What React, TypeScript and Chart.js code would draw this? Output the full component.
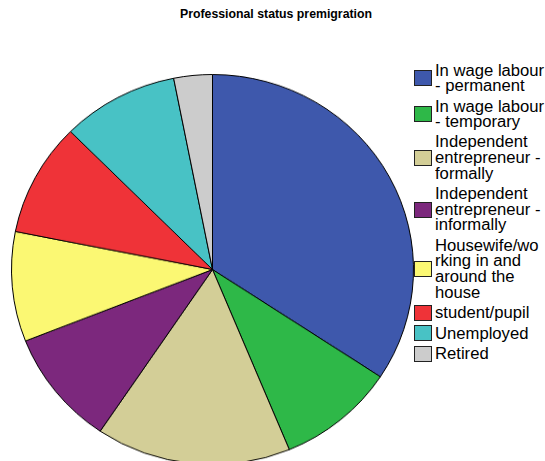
import React, { useEffect, useRef } from "react";
import { Chart, registerables } from "chart.js";

Chart.register(...registerables);

const chartTitle = "Professional status premigration";

const categories: string[][] = [
  ["In wage labour", "- permanent"],
  ["In wage labour", "- temporary"],
  ["Independent", "entrepreneur -", "formally"],
  ["Independent", "entrepreneur -", "informally"],
  ["Housewife/wo", "rking in and", "around the", "house"],
  ["student/pupil"],
  ["Unemployed"],
  ["Retired"],
];

const values = [34.3, 9.5, 15.7, 9.6, 9.1, 9.4, 9.4, 3.1];

const colors = [
  "#3E58AC",
  "#2EB848",
  "#D3CE97",
  "#7C287D",
  "#FBF873",
  "#EF3338",
  "#48C2C5",
  "#CCCCCC",
];

const FONT = "'Liberation Sans', Arial, Helvetica, sans-serif";

export default function App() {
  const canvasRef = useRef<HTMLCanvasElement | null>(null);

  useEffect(() => {
    if (!canvasRef.current) return;
    const chart = new Chart(canvasRef.current, {
      type: "pie",
      data: {
        labels: categories.map((c) => c.join(" ")),
        datasets: [
          {
            data: values,
            backgroundColor: colors,
            borderColor: "#000000",
            borderWidth: 1,
            hoverOffset: 0,
          },
        ],
      },
      options: {
        animation: false,
        responsive: false,
        maintainAspectRatio: false,
        layout: { padding: 0 },
        plugins: {
          legend: { display: false },
          title: { display: false },
          tooltip: { enabled: false },
        },
      },
    });
    return () => chart.destroy();
  }, []);

  return (
    <div
      style={{
        position: "fixed",
        left: 0,
        top: 0,
        width: 545,
        height: 461,
        overflow: "hidden",
        background: "#ffffff",
        fontFamily: FONT,
      }}
    >
      <div
        style={{
          position: "absolute",
          left: 176,
          width: 200,
          top: 5,
          textAlign: "center",
          fontWeight: "bold",
          fontSize: 12,
          lineHeight: "18px",
          color: "#000",
          whiteSpace: "nowrap",
          transform: "scaleX(1.025)",
          transformOrigin: "100px 0px",
        }}
      >
        {chartTitle}
      </div>
      <div
        style={{
          position: "absolute",
          left: 11,
          top: 68,
          width: 403,
          height: 403,
          transform: "scaleY(0.97)",
          transformOrigin: "201.5px 201.5px",
        }}
      >
        <canvas ref={canvasRef} width={403} height={403} style={{ display: "block" }} />
      </div>
      <div
        style={{
          position: "absolute",
          left: 414,
          top: 62.6,
          width: 140,
        }}
      >
        {categories.map((lines, i) => (
          <div
            key={i}
            style={{
              display: "flex",
              alignItems: "center",
              marginBottom: 4.5,
            }}
          >
            <div
              style={{
                width: 16,
                height: 14,
                background: colors[i],
                border: "1px solid #222",
                flex: "none",
              }}
            />
            <div
              style={{
                marginLeft: 2.5,
                fontSize: 16,
                lineHeight: "15.7px",
                color: "#000",
                whiteSpace: "nowrap",
                transform: "scaleX(1.04)",
                transformOrigin: "0px 0px",
              }}
            >
              {lines.map((l, j) => (
                <div key={j}>{l}</div>
              ))}
            </div>
          </div>
        ))}
      </div>
    </div>
  );
}
